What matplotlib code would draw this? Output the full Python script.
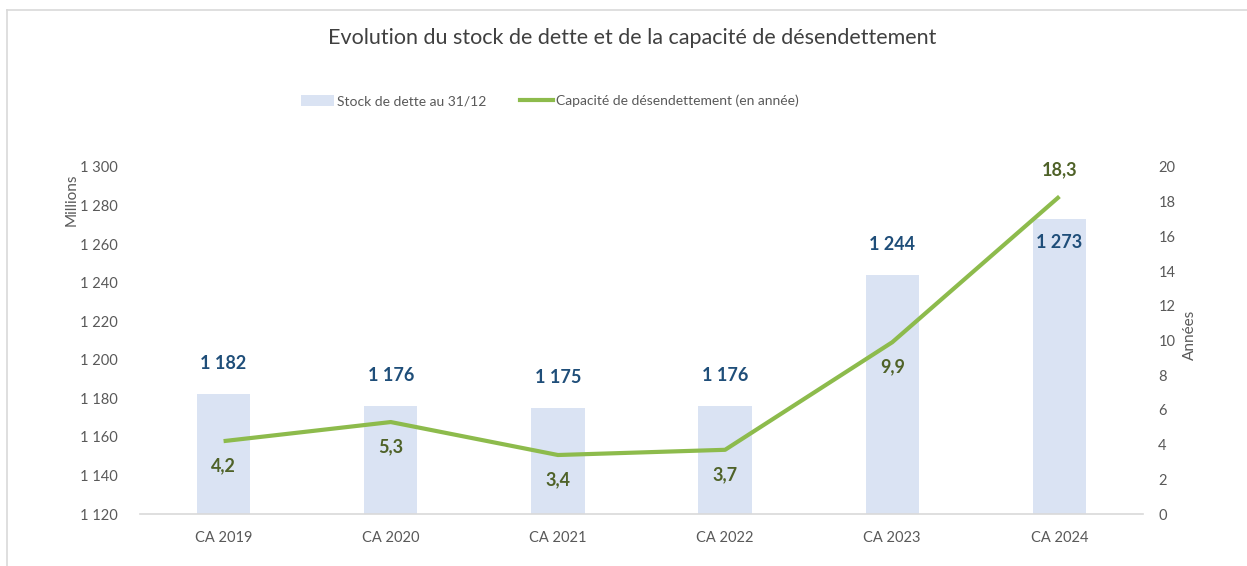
import matplotlib
matplotlib.use("Agg")
import matplotlib.pyplot as plt
from matplotlib.lines import Line2D
from matplotlib.patches import Patch
from matplotlib.ticker import FuncFormatter, MultipleLocator

categories = ["CA 2019", "CA 2020", "CA 2021", "CA 2022", "CA 2023", "CA 2024"]
stock_dette = [1182, 1176, 1175, 1176, 1244, 1273]
capacite = [4.2, 5.3, 3.4, 3.7, 9.9, 18.3]
bar_label_inside = [False, False, False, False, False, True]
line_label_above = [False, False, False, False, False, True]

plt.rcParams['font.family'] = ['Lato', 'DejaVu Sans']

BAR_COLOR = "#DAE3F3"
LINE_COLOR = "#8DBB4C"
BAR_LABEL = "#1F4E79"
LINE_LABEL = "#4F6228"
TICK_COLOR = "#595959"

fig = plt.figure(figsize=(12.47, 5.66), dpi=100)
ax = fig.add_axes([140/1247, 52/566, 1003/1247, 347/566])
ax2 = ax.twinx()

x = list(range(len(categories)))
ax.bar(x, stock_dette, width=0.32, color=BAR_COLOR, zorder=1)
ax.set_ylim(1120, 1300)
ax.set_xlim(-0.5, len(categories) - 0.5)
ax.yaxis.set_major_locator(MultipleLocator(20))

def fr_thousands(v, pos=None):
    return f"{int(round(v)):,}".replace(",", " ")

ax.yaxis.set_major_formatter(FuncFormatter(fr_thousands))
ax.set_xticks(x)
ax.set_xticklabels(categories)

ax2.plot(x, capacite, color=LINE_COLOR, linewidth=3, solid_capstyle='butt', zorder=3)
ax2.set_ylim(0, 20)
ax2.yaxis.set_major_locator(MultipleLocator(2))

for a in (ax, ax2):
    for s in a.spines.values():
        s.set_visible(False)
    a.tick_params(length=0, colors=TICK_COLOR, labelsize=10.5)
ax.spines['bottom'].set_visible(True)
ax.spines['bottom'].set_color("#D9D9D9")
ax.spines['bottom'].set_linewidth(1.2)
ax.tick_params(axis='x', pad=12)
ax.tick_params(axis='y', pad=16)
ax2.tick_params(axis='y', pad=11)

for i, v in enumerate(stock_dette):
    off = -17 if bar_label_inside[i] else 22
    ax.annotate(fr_thousands(v), (i, v), xytext=(0, off), textcoords='offset points',
                ha='center', va='center', fontsize=13, fontweight='bold', color=BAR_LABEL)

for i, v in enumerate(capacite):
    off = 19 if line_label_above[i] else -18
    ax2.annotate(f"{v:.1f}".replace(".", ","), (i, v), xytext=(0, off), textcoords='offset points',
                 ha='center', va='center', fontsize=13, fontweight='bold', color=LINE_LABEL)

fig.text(632/1247, 1 - 38/566, "Evolution du stock de dette et de la capacité de désendettement",
         ha='center', va='center', fontsize=15.5, color="#404040")
fig.text(72/1247, 1 - 200/566, "Millions", rotation=90, ha='center', va='center',
         fontsize=11, color=TICK_COLOR)
fig.text(1190/1247, 1 - 335/566, "Années", rotation=90, ha='center', va='center',
         fontsize=11, color=TICK_COLOR)

handles = [Patch(facecolor=BAR_COLOR, edgecolor='none'),
           Line2D([0], [0], color=LINE_COLOR, linewidth=3)]
labels = ["Stock de dette au 31/12", "Capacité de désendettement (en année)"]
fig.legend(handles, labels, loc='center', bbox_to_anchor=(550/1247, 1 - 101/566), ncol=2,
           frameon=False, fontsize=10, handlelength=2.4, handletextpad=0.2, columnspacing=2.4,
           labelcolor=TICK_COLOR, handleheight=0.9)

fig.add_artist(Line2D([7/1247, 7/1247], [0, 1 - 10/566], transform=fig.transFigure,
                      color="#D9D9D9", linewidth=1.2))
fig.add_artist(Line2D([7/1247, 1], [1 - 10/566, 1 - 10/566], transform=fig.transFigure,
                      color="#D9D9D9", linewidth=1.2))

fig.savefig("out.png", dpi=100)
